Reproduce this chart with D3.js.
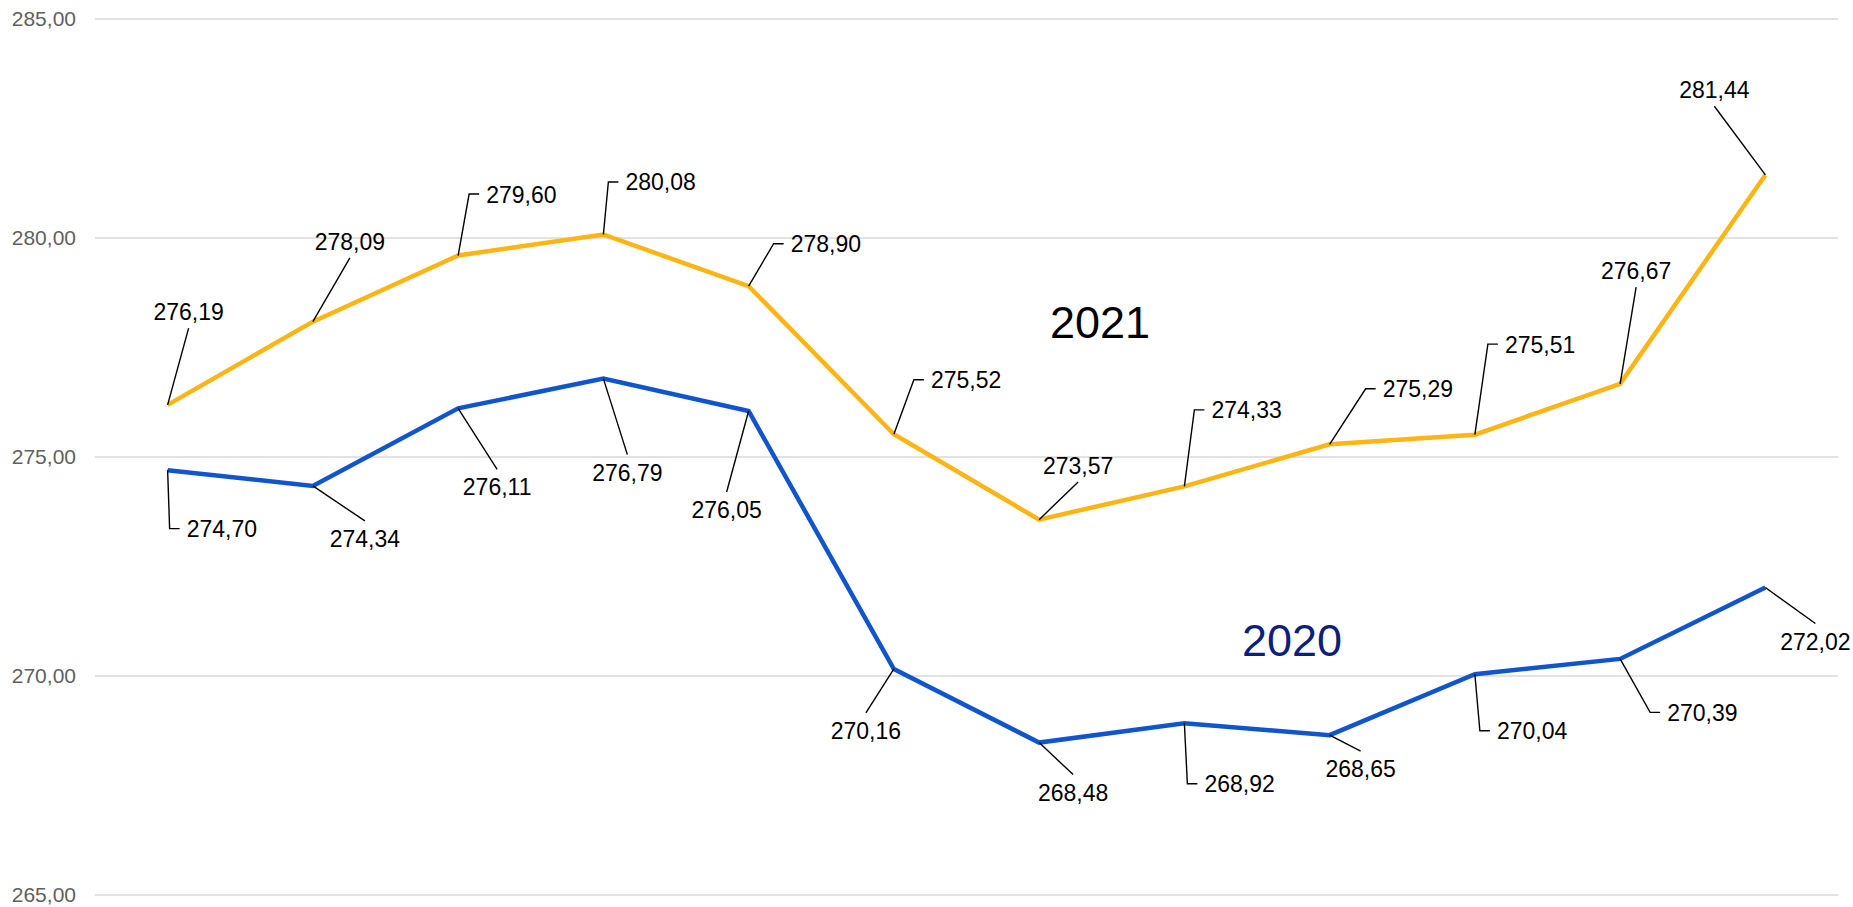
<!DOCTYPE html>
<html>
<head>
<meta charset="utf-8">
<script src="https://cdn.jsdelivr.net/npm/d3@7"></script>
<style>
  body { margin: 0; background: #fff; }
  svg { display: block; font-family: "Liberation Sans", Arial, sans-serif; }
  .grid line { stroke: #d9d9d9; stroke-width: 1.5; }
  .tick-label { fill: #5f5f5f; font-size: 21px; }
  .value-label { fill: #000; font-size: 23px; }
  .leader { fill: none; stroke: #000; stroke-width: 1.4; }
</style>
</head>
<body>
<svg width="1853" height="907"></svg>
<script>
// data
let months = ['jan', 'fev', 'mar', 'abr', 'mai', 'jun', 'jul', 'ago', 'set', 'out', 'nov', 'dez'];
let values2021 = [276.19, 278.09, 279.60, 280.08, 278.90, 275.52, 273.57, 274.33, 275.29, 275.51, 276.67, 281.44];
let values2020 = [274.70, 274.34, 276.11, 276.79, 276.05, 270.16, 268.48, 268.92, 268.65, 270.04, 270.39, 272.02];
let yTicks = [265, 270, 275, 280, 285];

// label placement (offset from the point: dx, dy to text baseline, kind)
let place2021 = [
  [21, -85, 'mid'], [37, -72, 'mid'], [28, -53, 'elbow'], [22, -44, 'elbow'],
  [42, -34, 'elbow'], [37, -46, 'elbow'], [39, -46, 'mid'], [27, -68, 'elbow'],
  [53, -47, 'elbow'], [30, -82, 'elbow'], [16, -105, 'mid'], [-51, -77, 'mid']
];
let place2020 = [
  [19, 67, 'elbow'], [52, 61, 'mid'], [39, 87, 'mid'], [24, 102, 'mid'],
  [-22, 107, 'mid'], [-28, 70, 'mid'], [34, 58, 'mid'], [20, 69, 'elbow'],
  [31, 42, 'mid'], [22, 65, 'elbow'], [47, 62, 'elbow'], [50, 62, 'mid']
];

let locale = d3.formatLocale({ decimal: ',', thousands: '.', grouping: [3], currency: ['R$', ''] });
let fmt = locale.format('.2f');

var svg = d3.select('svg'),
width = +svg.attr('width'),
height = +svg.attr('height');

let x = d3.scalePoint().domain(months).range([95, 1838]).padding(0.5);
let y = d3.scaleLinear().domain([265, 285]).range([895, 19]);

// grid + y labels
let grid = svg.append('g').attr('class', 'grid');
grid.selectAll('line')
.data(yTicks)
.enter()
.append('line')
.attr('x1', 95)
.attr('x2', 1838)
.attr('y1', d => y(d))
.attr('y2', d => y(d));

svg.append('g').selectAll('text')
.data(yTicks)
.enter()
.append('text')
.attr('class', 'tick-label')
.attr('x', 76)
.attr('y', d => y(d))
.attr('dy', '0.35em')
.attr('text-anchor', 'end')
.text(d => fmt(d));

let line = d3.line()
.x((d, i) => x(months[i]))
.y(d => y(d));

function drawSeries(values, place, color) {
  let g = svg.append('g');
  g.append('path')
  .datum(values)
  .attr('d', line)
  .attr('fill', 'none')
  .attr('stroke', color)
  .attr('stroke-width', 4.5);

  let pts = values.map((v, i) => {
    let px = x(months[i]), py = y(v);
    let p = place[i];
    return { v: v, px: px, py: py, ax: px + p[0], by: py + p[1], kind: p[2] };
  });

  g.selectAll('path.leader')
  .data(pts)
  .enter()
  .append('path')
  .attr('class', 'leader')
  .attr('d', d => {
    if (d.kind === 'elbow') {
      let cy = d.by - 8.5;
      return `M${d.px},${d.py}L${d.ax - 17},${cy}L${d.ax - 7},${cy}`;
    }
    let ey = d.by < d.py ? d.by + 8.3 : d.by - 26;
    return `M${d.px},${d.py}L${d.ax},${ey}`;
  });

  g.selectAll('text')
  .data(pts)
  .enter()
  .append('text')
  .attr('class', 'value-label')
  .attr('x', d => d.ax)
  .attr('y', d => d.by)
  .attr('text-anchor', d => d.kind === 'elbow' ? 'start' : 'middle')
  .text(d => fmt(d.v));
}

drawSeries(values2021, place2021, '#fdb515');
drawSeries(values2020, place2020, '#1155cc');

// series names
svg.append('text')
.attr('x', 1050)
.attr('y', 338)
.attr('font-size', 45)
.attr('fill', '#000')
.text('2021');

svg.append('text')
.attr('x', 1242)
.attr('y', 656)
.attr('font-size', 45)
.attr('fill', '#0c1f7a')
.text('2020');
</script>
</body>
</html>
